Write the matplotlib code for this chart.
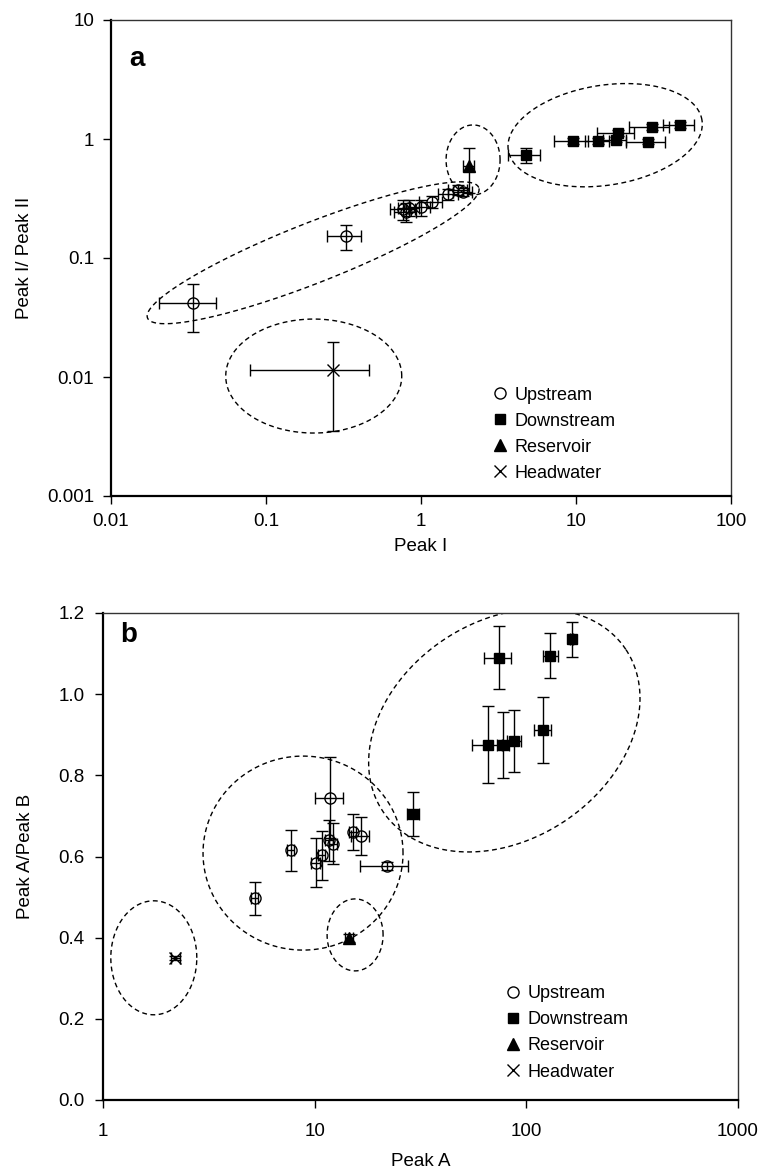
import numpy as np
import matplotlib
matplotlib.use('Agg')
import matplotlib.pyplot as plt
from matplotlib.lines import Line2D
from matplotlib.ticker import FixedLocator, FixedFormatter, NullLocator

plt.rcParams['font.family'] = ['Liberation Sans', 'DejaVu Sans']

# ---- panel a: Peak I vs Peak I / Peak II ----
up_a_x = [0.034, 0.33, 0.77, 0.80, 0.84, 1.0, 1.17, 1.5, 1.74, 1.87]
up_a_y = [0.042, 0.153, 0.257, 0.245, 0.265, 0.267, 0.297, 0.345, 0.373, 0.36]
up_a_xerr = [0.0135, 0.082, 0.14, 0.13, 0.13, 0.15, 0.2, 0.22, 0.25, 0.25]
up_a_yerr = [0.018, 0.036, 0.05, 0.045, 0.04, 0.04, 0.035, 0.035, 0.035, 0.03]

dn_a_x = [4.76, 9.6, 13.9, 18.0, 18.6, 30.8, 46.9, 29.3]
dn_a_y = [0.734, 0.962, 0.962, 0.99, 1.12, 1.27, 1.31, 0.95]
dn_a_xerr = [1.1, 2.4, 2.5, 3.0, 5.0, 8.8, 10.5, 8.4]
dn_a_yerr = [0.1, 0.05, 0.05, 0.05, 0.06, 0.07, 0.07, 0.05]

res_a_x, res_a_y, res_a_xerr, res_a_yerr = [2.04], [0.593], [0.17], [0.24]
hw_a_x, hw_a_y, hw_a_xerr, hw_a_yerr = [0.269], [0.0115], [0.19], [0.008]

# ---- panel b: Peak A vs Peak A / Peak B ----
up_b_x = [5.22, 7.7, 10.1, 10.8, 11.7, 12.2, 11.8, 15.1, 16.5, 21.9]
up_b_y = [0.497, 0.615, 0.585, 0.603, 0.64, 0.632, 0.745, 0.66, 0.65, 0.577]
up_b_xerr = [0.2, 0.3, 0.5, 0.4, 0.5, 0.5, 1.75, 0.6, 1.6, 5.6]
up_b_yerr = [0.04, 0.05, 0.06, 0.06, 0.05, 0.05, 0.1, 0.045, 0.047, 0.01]

dn_b_x = [29.2, 66, 77.8, 87.7, 120, 74.2, 130, 164]
dn_b_y = [0.705, 0.875, 0.875, 0.885, 0.912, 1.09, 1.095, 1.135]
dn_b_xerr = [2.0, 10.8, 5.0, 7.0, 11.4, 10.8, 10.5, 3.0]
dn_b_yerr = [0.055, 0.095, 0.082, 0.076, 0.081, 0.078, 0.055, 0.044]

res_b_x, res_b_y, res_b_xerr, res_b_yerr = [14.5], [0.40], [0.6], [0.01]
hw_b_x, hw_b_y, hw_b_xerr, hw_b_yerr = [2.2], [0.35], [0.1], [0.005]

labels = ['Upstream', 'Downstream', 'Reservoir', 'Headwater']

# cluster outlines: centre (axes fraction), semi axes (px), angle (deg)
rings_a = [(0.326, 0.511, 178, 30, 21.5),
           (0.584, 0.706, 27, 35, 0),
           (0.797, 0.758, 98, 50, 8.8),
           (0.327, 0.252, 88, 57, 0)]
rings_b = [(0.080, 0.292, 43, 57, 0),
           (0.397, 0.339, 28, 36, 0),
           (0.315, 0.507, 100, 97, 0),
           (0.632, 0.759, 146, 109, 33.7)]

FS = 13.5
LFS = 13


def dashed_ring(ax, fx, fy, a, b, ang):
    bb = ax.get_window_extent()
    t = np.linspace(0, 2 * np.pi, 300)
    r = np.deg2rad(ang)
    ex = a * np.cos(t)
    ey = b * np.sin(t)
    px = ex * np.cos(r) - ey * np.sin(r)
    py = ex * np.sin(r) + ey * np.cos(r)
    ax.plot(fx + px / bb.width, fy + py / bb.height, transform=ax.transAxes,
            color='k', lw=1.0, ls=(0, (3.5, 2.5)), zorder=1)


def draw_series(ax, x, y, xe, ye, style):
    ax.errorbar(x, y, xerr=xe, yerr=ye, fmt='none', ecolor='k',
                elinewidth=1.0, capsize=4, capthick=1.0, zorder=2)
    ax.plot(x, y, ls='none', zorder=3, **style)


styles = [dict(marker='o', ms=8, mfc='none', mec='k', mew=1.0),
          dict(marker='s', ms=6.5, mfc='k', mec='k'),
          dict(marker='^', ms=8, mfc='k', mec='k'),
          dict(marker='x', ms=8, mec='k', mew=1.0)]


def style_axes(ax, xpad, ypad):
    for s in ['left', 'bottom']:
        ax.spines[s].set_linewidth(1.6)
        ax.spines[s].set_color('k')
    for s in ['top', 'right']:
        ax.spines[s].set_linewidth(1.0)
        ax.spines[s].set_color('#333333')
    ax.tick_params(which='major', direction='out', length=5.5, width=1,
                   labelsize=FS, top=False, right=False)
    ax.tick_params(axis='x', pad=xpad)
    ax.tick_params(axis='y', pad=ypad)
    ax.xaxis.set_minor_locator(NullLocator())
    ax.yaxis.set_minor_locator(NullLocator())
    handles = [Line2D([], [], ls='none', **st) for st in styles]
    return handles


fig = plt.figure(figsize=(7.75, 11.73), dpi=100)

# panel a
ax1 = fig.add_axes([111 / 775, 1 - 496 / 1173, 620 / 775, 476 / 1173])
ax1.set_xscale('log')
ax1.set_yscale('log')
ax1.set_xlim(0.01, 100)
ax1.set_ylim(0.001, 10)
for ring in rings_a:
    dashed_ring(ax1, *ring)
draw_series(ax1, up_a_x, up_a_y, up_a_xerr, up_a_yerr, styles[0])
draw_series(ax1, dn_a_x, dn_a_y, dn_a_xerr, dn_a_yerr, styles[1])
draw_series(ax1, res_a_x, res_a_y, res_a_xerr, res_a_yerr, styles[2])
draw_series(ax1, hw_a_x, hw_a_y, hw_a_xerr, hw_a_yerr, styles[3])
h = style_axes(ax1, 6.8, 6.5)
xt = [0.01, 0.1, 1, 10, 100]
yt = [0.001, 0.01, 0.1, 1, 10]
ax1.xaxis.set_major_locator(FixedLocator(xt))
ax1.xaxis.set_major_formatter(FixedFormatter(['0.01', '0.1', '1', '10', '100']))
ax1.yaxis.set_major_locator(FixedLocator(yt))
ax1.yaxis.set_major_formatter(FixedFormatter(['0.001', '0.01', '0.1', '1', '10']))
ax1.set_xlabel('Peak I', fontsize=FS, labelpad=6)
ax1.set_ylabel('Peak I/ Peak II', fontsize=FS, labelpad=10.5)
ax1.text(0.042, 0.918, 'a', transform=ax1.transAxes, fontsize=20,
         fontweight='bold', ha='center', va='center')
ax1.legend(h, labels, loc='lower left', bbox_to_anchor=(0.613, 0.03),
           frameon=False, fontsize=LFS, handlelength=1.0, handletextpad=0.32,
           labelspacing=0.5, borderpad=0, borderaxespad=0)

# panel b
ax2 = fig.add_axes([103 / 775, 1 - 1100 / 1173, 635 / 775, 487 / 1173])
ax2.set_xscale('log')
ax2.set_xlim(1, 1000)
ax2.set_ylim(0, 1.2)
for ring in rings_b:
    dashed_ring(ax2, *ring)
draw_series(ax2, up_b_x, up_b_y, up_b_xerr, up_b_yerr, styles[0])
draw_series(ax2, dn_b_x, dn_b_y, dn_b_xerr, dn_b_yerr, styles[1])
draw_series(ax2, res_b_x, res_b_y, res_b_xerr, res_b_yerr, styles[2])
draw_series(ax2, hw_b_x, hw_b_y, hw_b_xerr, hw_b_yerr, styles[3])
h = style_axes(ax2, 11, 8)
ax2.xaxis.set_major_locator(FixedLocator([1, 10, 100, 1000]))
ax2.xaxis.set_major_formatter(FixedFormatter(['1', '10', '100', '1000']))
yb = np.arange(0, 1.21, 0.2)
ax2.yaxis.set_major_locator(FixedLocator(yb))
ax2.yaxis.set_major_formatter(FixedFormatter(['%.1f' % v for v in yb]))
ax2.set_xlabel('Peak A', fontsize=FS, labelpad=9.5)
ax2.set_ylabel('Peak A/Peak B', fontsize=FS, labelpad=17)
ax2.text(0.04, 0.955, 'b', transform=ax2.transAxes, fontsize=20,
         fontweight='bold', ha='center', va='center')
ax2.legend(h, labels, loc='lower left', bbox_to_anchor=(0.631, 0.04),
           frameon=False, fontsize=LFS, handlelength=1.0, handletextpad=0.32,
           labelspacing=0.5, borderpad=0, borderaxespad=0)

fig.savefig('out.png', dpi=100)
